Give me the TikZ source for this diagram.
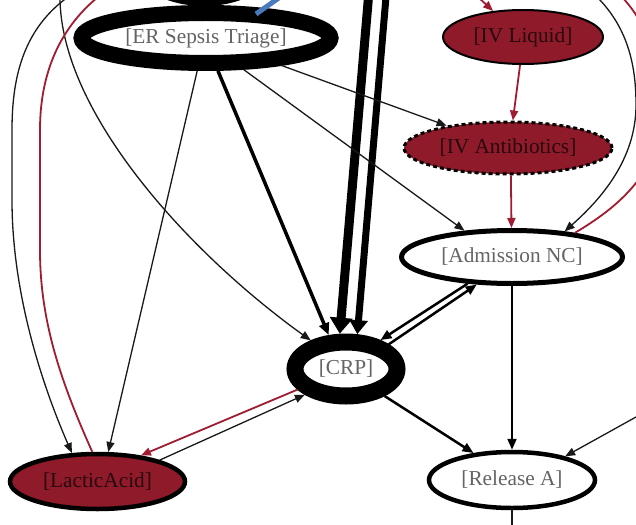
\documentclass[tikz,border=0pt]{standalone}
\usepackage{fontspec}
\setmainfont{Liberation Serif}
\usetikzlibrary{arrows.meta,shapes.geometric,calc}
\definecolor{nodered}{RGB}{143,26,42}
\definecolor{edgered}{RGB}{160,28,48}
\definecolor{edgeblue}{RGB}{74,122,190}
\definecolor{txtgray}{RGB}{100,100,100}
\definecolor{txtdark}{RGB}{40,8,14}
\definecolor{ink}{RGB}{25,25,25}
\begin{document}
\begin{tikzpicture}[x=1pt,y=-1pt,
  every node/.style={font=\fontsize{21.3pt}{24pt}\selectfont},
  basenode/.style={ellipse, inner sep=0pt, draw=black},
  whitenode/.style={basenode, fill=white, text=txtgray},
  rednode/.style={basenode, fill=nodered, text=txtdark},
  thinedge/.style={draw=ink, line width=1.3pt, -{Triangle[length=10pt,width=8pt]}},
  plainthin/.style={draw=ink, line width=1.3pt},
  medEdge/.style={draw=black, line width=2.5pt, -{Triangle[length=11pt,width=9pt]}},
  redEdge/.style={draw=edgered, line width=1.8pt, -{Triangle[length=10pt,width=8pt]}},
  redplain/.style={draw=edgered, line width=1.8pt},
  blueEdge/.style={draw=edgeblue, line width=5pt}
]
\useasboundingbox (0,0) rectangle (636,524);
\clip (0,0) rectangle (636,524);
\fill[white] (0,0) rectangle (636,524);

% nodes
\node[whitenode, minimum width=120pt, minimum height=60pt, line width=6pt, outer sep=3pt] (topn) at (204,-27) {};
\node[whitenode, minimum width=249pt, minimum height=50pt, line width=16pt, outer sep=8pt] (er) at (206,38) {[ER Sepsis Triage]};
\node[whitenode, minimum width=102pt, minimum height=54pt, line width=17pt, outer sep=8.5pt] (crp) at (346,369) {[CRP]};
\node[whitenode, minimum width=221pt, minimum height=53pt, line width=5pt, outer sep=2.5pt] (adm) at (512,257) {[Admission NC]};
\node[rednode, dash pattern=on 4pt off 3pt, minimum width=208pt, minimum height=52pt, line width=3pt, outer sep=1.5pt] (anti) at (508,148) {[IV Antibiotics]};
\node[rednode, minimum width=160pt, minimum height=54pt, line width=2pt, outer sep=1pt] (liq) at (523,37) {[IV Liquid]};
\node[rednode, minimum width=175pt, minimum height=55pt, line width=4.5pt, outer sep=2.25pt] (lac) at (97.5,481.5) {[LacticAcid]};
\node[whitenode, minimum width=166pt, minimum height=56pt, line width=4.5pt, outer sep=2.25pt] (rel) at (512,480) {[Release A]};

% free ends
\coordinate (offA) at (60,-3);
\coordinate (offB) at (68,-3);
\coordinate (offC) at (98,-3);
\coordinate (offD) at (597,-3);
\coordinate (offE) at (478,-3);
\coordinate (offF) at (645,412);
\coordinate (offG) at (283,-5);
\coordinate (offH) at (512,530);
\coordinate (offI) at (620,-5);
\coordinate (offJ) at (368.5,-3);
\coordinate (offK) at (386,-3);

% edges
\draw[draw=black, line width=9pt, -{Triangle[length=16pt,width=22pt]}] (offJ) -- (crp.100);
\draw[draw=black, line width=7pt, -{Triangle[length=14pt,width=18pt]}] (offK) -- (crp.72);
\draw[blueEdge] ($(er.center)+(50,-24)$) -- (offG);
\draw[thinedge] (er.-20) -- (anti.160);
\draw[thinedge] (er.-40) -- (adm.151);
\draw[draw=black, line width=3.5pt, -{Triangle[length=12pt,width=10pt]}] (er.-70) -- (crp.117);
\draw[thinedge] (er.255) -- (lac.70);
\draw[thinedge] (offA) .. controls (60,110) and (185,250) .. (crp.141);
\draw[thinedge] (offB) .. controls (22,30) and (12,80) .. (12,130) -- (12,200) .. controls (12,290) and (40,380) .. (lac.132);
\draw[redplain] (lac.100) .. controls (60,380) and (40,320) .. (40,250) -- (40,130) .. controls (40,60) and (70,20) .. (offC);
\draw[redEdge] (crp.203) -- (lac.31);
\draw[thinedge] (lac.19) -- (crp.212);
\draw[medEdge] (adm.211) -- (crp.40);
\draw[medEdge] (crp.30) -- (adm.218);
\draw[medEdge] (crp.-35) -- (rel.145);
\draw[draw=black, line width=2pt, -{Triangle[length=11pt,width=9pt]}] (adm.south) -- (rel.north);
\draw[thinedge] (offF) -- (rel.24);
\draw[redEdge] (liq.-96) -- (anti.80);
\draw[redEdge] (anti.-84) -- (adm.91);
\draw[redEdge] (offE) -- (liq.139);
\draw[thinedge] (offD) .. controls (630,30) and (636,70) .. (636,105) .. controls (636,160) and (600,200) .. (adm.26);
\draw[redplain] (adm.21) .. controls (600,218) and (628,198) .. (645,170) .. controls (670,120) and (665,40) .. (offI);
\draw[plainthin] (rel.south) -- (offH);
\end{tikzpicture}
\end{document}
